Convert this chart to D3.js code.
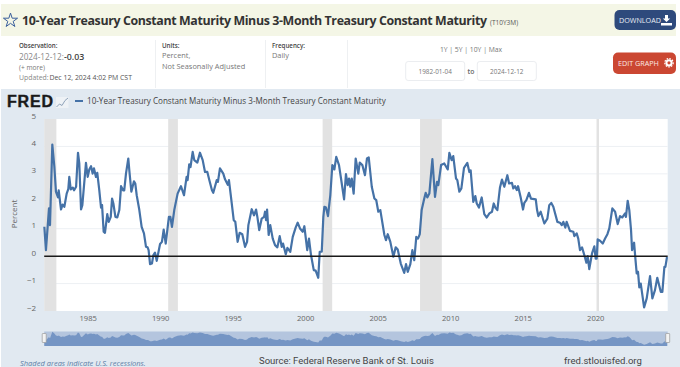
<!DOCTYPE html>
<html>
<head>
<meta charset="utf-8">
<script src="https://cdn.jsdelivr.net/npm/d3@7"></script>
<style>
  html, body { margin: 0; padding: 0; background: #fff; overflow: hidden; }
  svg { display: block; font-family: "Open Sans", sans-serif; }
</style>
</head>
<body>
<div id="chart"></div>
<script>
// observation dates as fractional years
const obsYears = [1982.01,1982.12,1982.33,1982.40,1982.56,1982.70,1982.81,1982.95,1983.0,1983.16,1983.27,1983.39,1983.55,1983.66,1983.73,1983.83,1983.97,1984.06,1984.2,1984.33,1984.42,1984.54,1984.63,1984.88,1985.0,1985.11,1985.23,1985.34,1985.43,1985.57,1985.66,1985.8,1985.92,1985.99,1986.1,1986.19,1986.35,1986.45,1986.59,1986.68,1986.77,1986.91,1987.04,1987.18,1987.3,1987.44,1987.52,1987.64,1987.8,1987.87,1988.01,1988.19,1988.28,1988.38,1988.56,1988.72,1988.88,1989.02,1989.13,1989.2,1989.3,1989.43,1989.53,1989.64,1989.76,1989.99,1990.12,1990.24,1990.38,1990.6,1990.7,1990.81,1990.97,1991.2,1991.43,1991.64,1991.82,1991.89,1992.0,1992.09,1992.24,1992.35,1992.56,1992.74,1992.93,1993.09,1993.25,1993.39,1993.57,1993.66,1993.9,1993.98,1994.12,1994.35,1994.47,1994.66,1994.74,1994.88,1995.07,1995.18,1995.34,1995.48,1995.66,1995.85,1995.99,1996.08,1996.31,1996.47,1996.61,1996.70,1996.83,1997.0,1997.16,1997.23,1997.3,1997.37,1997.48,1997.59,1997.76,1997.92,1998.08,1998.24,1998.38,1998.47,1998.66,1998.77,1998.97,1999.14,1999.34,1999.48,1999.64,1999.83,1999.94,2000.14,2000.26,2000.40,2000.59,2000.72,2000.90,2001.0,2001.14,2001.25,2001.32,2001.43,2001.57,2001.73,2001.87,2002.01,2002.14,2002.33,2002.47,2002.68,2002.81,2002.93,2003.02,2003.11,2003.21,2003.34,2003.48,2003.66,2003.76,2003.94,2004.12,2004.26,2004.38,2004.59,2004.77,2004.90,2005.04,2005.18,2005.46,2005.57,2005.69,2005.87,2006.08,2006.24,2006.38,2006.59,2006.83,2006.95,2007.07,2007.25,2007.39,2007.52,2007.66,2007.78,2007.90,2008.03,2008.21,2008.31,2008.42,2008.56,2008.77,2008.95,2009.09,2009.18,2009.37,2009.59,2009.83,2009.94,2010.10,2010.21,2010.40,2010.49,2010.63,2010.77,2010.95,2011.18,2011.32,2011.41,2011.59,2011.73,2011.83,2011.98,2012.17,2012.35,2012.52,2012.70,2012.88,2013.0,2013.11,2013.25,2013.43,2013.57,2013.73,2013.94,2014.06,2014.26,2014.35,2014.47,2014.59,2014.68,2014.86,2015.02,2015.11,2015.25,2015.43,2015.57,2015.90,2015.99,2016.08,2016.24,2016.49,2016.70,2016.83,2016.97,2017.11,2017.39,2017.57,2017.69,2017.80,2017.94,2018.03,2018.26,2018.49,2018.56,2018.72,2018.83,2018.95,2019.09,2019.28,2019.39,2019.48,2019.59,2019.78,2019.94,2020.03,2020.10,2020.17,2020.33,2020.52,2020.68,2020.84,2020.97,2021.18,2021.37,2021.55,2021.71,2021.87,2022.06,2022.12,2022.24,2022.35,2022.47,2022.54,2022.68,2022.77,2022.86,2022.95,2023.04,2023.14,2023.37,2023.55,2023.78,2023.94,2024.12,2024.28,2024.52,2024.63,2024.77,2024.84,2024.95];
const spread = [1.07,.22,1.74,1.13,4.07,3.26,2.35,2.14,2.4,1.7,1.88,1.8,2.28,2.44,2.89,2.43,2.5,2.4,2.53,3.77,3.38,1.7,1.86,3.4,2.89,3.16,3.28,3.01,3.2,2.89,3.04,2.4,1.77,1.86,.89,.85,1.53,1.25,1.43,2.1,1.92,1.43,1.41,1.68,2.55,2.4,2.4,3.01,3.56,3.13,2.35,2.73,2.65,2.22,1.68,1.07,.83,.34,.32,.22,-.29,-.27,.04,.13,-.17,.44,.52,.97,.46,1.43,1.43,1.07,1.68,2.28,2.55,2.22,2.89,2.77,3.35,3.25,3.8,3.5,3.41,3.77,3.5,3.07,3.07,2.77,2.4,2.31,2.77,2.71,3.2,3.01,2.8,2.6,2.77,2.16,1.31,1.25,.52,.85,.80,.34,.52,1.13,1.71,1.49,1.70,1.43,.95,1.37,1.43,1.62,1.31,1.70,.77,1.13,.64,.40,.32,.73,.34,.46,.07,.30,.16,.70,1.04,1.22,1.01,.89,1.09,.22,.64,.04,-.51,-.53,-.79,.16,.16,1.43,1.80,1.77,1.46,2.22,3.32,3.16,3.62,3.32,2.83,2.07,2.99,2.59,2.83,2.53,2.83,2.28,3.56,3.01,3.41,3.32,2.95,3.56,3.60,2.53,2.10,2.04,1.62,1.68,.77,.58,.80,.52,-.02,.32,.24,-.27,-.61,-.29,-.57,-.29,.22,-.15,.70,.64,.80,1.68,2.10,2.31,2.14,2.28,3.54,2.16,2.71,2.59,3.32,3.38,3.16,3.77,3.50,3.65,2.83,2.77,2.35,2.47,3.22,3.40,3.07,3.13,1.98,2.19,1.92,1.77,2.14,1.53,1.41,1.56,1.62,1.92,1.77,1.68,2.50,2.79,2.53,2.95,2.65,2.67,2.47,2.55,2.41,2.55,2.14,1.70,1.94,2.04,2.31,2.10,2.07,1.68,1.46,1.62,1.19,1.37,1.86,1.94,1.80,1.25,1.22,1.13,1.25,1.04,1.25,.92,.89,.73,.83,.64,.22,.32,-.02,-.24,0,-.47,.10,.36,-.09,-.09,.61,.56,.46,.64,.80,1.01,1.74,1.62,1.17,1.46,1.41,1.56,1.43,2.02,1.68,.95,.22,.49,-.09,-.63,-.57,-1.14,-1.0,-1.87,-1.54,-.73,-1.54,-1.24,-.79,-1.3,-1.3,-.39,-.39,-.03];

const recessionStart = [1981.5, 1990.55, 2001.2, 2007.92, 2020.09];
const recessionEnd = [1982.84, 1991.22, 2001.86, 2009.42, 2020.26];
const yTicks = [-2, -1, 0, 1, 2, 3, 4, 5];
const xTicks = [1985, 1990, 1995, 2000, 2005, 2010, 2015, 2020];

const width = 680;
const height = 367;
const plot = { left: 44.2, right: 667.7, top: 119, bottom: 311 };

const svg = d3.select("#chart").append("svg")
    .attr("width", width)
    .attr("height", height);

const x = d3.scaleLinear().domain([1982, 2024.998]).range([plot.left, plot.right]);
const y = d3.scaleLinear().domain([-2, 5]).range([plot.bottom, plot.top]);
const miniY = d3.scaleLinear().domain([-2.4, 4.2]).range([346, 331.5]);

const series = obsYears.map((yr, i) => ({ yr, val: spread[i] }));

// small helper for all the page furniture text
function label(txt, px, py, size, color, opts = {}) {
    return svg.append("text")
        .attr("x", px).attr("y", py)
        .attr("font-size", size)
        .attr("fill", color)
        .attr("font-weight", opts.weight || 400)
        .attr("font-style", opts.style || "normal")
        .attr("font-family", opts.family || null)
        .attr("text-anchor", opts.anchor || "start")
        .text(txt);
}

// title banner
svg.append("rect").attr("x", 1).attr("y", 4).attr("width", 675).attr("height", 32).attr("fill", "#f4f6e6");
svg.append("path")
    .attr("d", d3.symbol(d3.symbolStar, 62))
    .attr("transform", "translate(10.5,20.5)")
    .attr("fill", "none").attr("stroke", "#3a5f9c").attr("stroke-width", 1);
label("10-Year Treasury Constant Maturity Minus 3-Month Treasury Constant Maturity", 22, 25, 12.4, "#333", { weight: 700 })
    .attr("textLength", 465).attr("lengthAdjust", "spacing");
label("(T10Y3M)", 490, 24.5, 6.5, "#555");

// buttons
svg.append("rect").attr("x", 614.5).attr("y", 10).attr("width", 61.5).attr("height", 20).attr("rx", 5).attr("fill", "#2e4a7c");
label("DOWNLOAD", 619, 22.5, 7.2, "#e8edf5");
svg.append("path").attr("d", "M665 15h3v3.5h2.2l-3.7 3.5-3.7-3.5H665z M661 23h11v2.4h-11z").attr("fill", "#fff");

svg.append("rect").attr("x", 613).attr("y", 52.5).attr("width", 63).attr("height", 21.5).attr("rx", 5).attr("fill", "#cb4732");
label("EDIT GRAPH", 618, 66, 7.2, "#fbe9e5");
svg.append("circle").attr("cx", 669).attr("cy", 62.8).attr("r", 2.6).attr("fill", "none").attr("stroke", "#fff").attr("stroke-width", 2);
svg.append("circle").attr("cx", 669).attr("cy", 62.8).attr("r", 4.2).attr("fill", "none").attr("stroke", "#fff").attr("stroke-width", 1.2).attr("stroke-dasharray", "1.6 1.2");

// info row
[155.5, 265.5, 347.5].forEach(px => {
    svg.append("line").attr("x1", px).attr("x2", px).attr("y1", 40).attr("y2", 88).attr("stroke", "#eef0f2");
});
label("Observation:", 19, 48, 6.2, "#444", { weight: 600 });
label("2024-12-12:", 19, 60, 8.2, "#888");
label("-0.03", 64, 60, 8.8, "#444", { weight: 600 });
label("(+ more)", 19, 70, 6.6, "#777");
label("Updated:", 19, 80, 6.9, "#888");
label("Dec 12, 2024 4:02 PM CST", 49.5, 80, 6.9, "#555");
label("Units:", 162, 48, 6.2, "#444", { weight: 600 });
label("Percent,", 162, 58, 7.4, "#777");
label("Not Seasonally Adjusted", 162, 69, 7.4, "#777");
label("Frequency:", 272, 48, 6.2, "#444", { weight: 600 });
label("Daily", 272, 58, 7.4, "#777");

// date range
label("1Y | 5Y | 10Y | Max", 471, 52, 6.8, "#777", { anchor: "middle" });
[[405.7, "1982-01-04"], [477.3, "2024-12-12"]].forEach(([px, txt]) => {
    svg.append("rect").attr("x", px).attr("y", 61.5).attr("width", 59).attr("height", 19).attr("rx", 2.5)
        .attr("fill", "#fff").attr("stroke", "#ebedf0");
    label(txt, px + 29.5, 73.5, 6.4, "#777", { anchor: "middle" });
});
label("to", 471, 73.5, 6.8, "#666", { anchor: "middle", weight: 600 });

// chart panel
svg.append("rect").attr("x", 1).attr("y", 89).attr("width", 679).attr("height", 278).attr("fill", "#e1e9f1");
label("FRED", 7, 107, 16, "#1a1a1a", { weight: 700, family: "Liberation Sans" })
    .attr("textLength", 46).attr("stroke", "#1a1a1a").attr("stroke-width", 0.4);
svg.append("rect").attr("x", 56).attr("y", 97).attr("width", 12.5).attr("height", 11).attr("fill", "#eef2f6");
svg.append("path").attr("d", "M56.5 107l3-3 2.5 1.5 3-5 3-2.5").attr("fill", "none").attr("stroke", "#8fa3ba").attr("stroke-width", 1);
svg.append("line").attr("x1", 75).attr("x2", 83).attr("y1", 101).attr("y2", 101).attr("stroke", "#4572a7").attr("stroke-width", 2);
label("10-Year Treasury Constant Maturity Minus 3-Month Treasury Constant Maturity", 87, 104, 8.1, "#444");

// plot area
svg.append("rect").attr("x", plot.left).attr("y", plot.top)
    .attr("width", plot.right - plot.left).attr("height", plot.bottom - plot.top).attr("fill", "#fff");

svg.append("g").selectAll("line")
    .data(yTicks.filter(d => d !== 5 && d !== -2))
    .join("line")
    .attr("x1", plot.left).attr("x2", plot.right)
    .attr("y1", d => y(d)).attr("y2", d => y(d))
    .attr("stroke", "#edf0f4").attr("stroke-width", 1);

svg.append("g").selectAll("rect")
    .data(recessionStart)
    .join("rect")
    .attr("x", d => Math.max(x(d), plot.left))
    .attr("width", (d, i) => x(recessionEnd[i]) - Math.max(x(d), plot.left))
    .attr("y", plot.top).attr("height", plot.bottom - plot.top)
    .attr("fill", "#e2e2e2");

const yAxis = svg.append("g")
    .attr("transform", `translate(${plot.left},0)`)
    .call(d3.axisLeft(y).tickValues(yTicks).tickSize(0).tickPadding(8).tickFormat(d3.format("d")));
yAxis.select(".domain").remove();
yAxis.selectAll("text").attr("dy", "-0.9").attr("font-size", 8).attr("font-family", "Open Sans").attr("fill", "#666");

const xAxis = svg.append("g")
    .attr("transform", `translate(0,${plot.bottom})`)
    .call(d3.axisBottom(x).tickValues(xTicks).tickSize(0).tickPadding(5).tickFormat(d3.format("d")));
xAxis.select(".domain").remove();
xAxis.selectAll("text").attr("font-size", 7.6).attr("font-family", "Open Sans").attr("fill", "#666");

label("Percent", 0, 0, 8, "#666", { anchor: "middle" }).attr("transform", "translate(17,214) rotate(-90)");

const line = d3.line().x(d => x(d.yr)).y(d => y(d.val)).curve(d3.curveLinear);
svg.append("path")
    .datum(series)
    .attr("d", line)
    .attr("fill", "none")
    .attr("stroke", "#4572a7")
    .attr("stroke-width", 2.2)
    .attr("stroke-linejoin", "round");

// zero line
svg.append("line")
    .attr("x1", plot.left).attr("x2", plot.right)
    .attr("y1", y(0)).attr("y2", y(0))
    .attr("stroke", "#1a1a1a").attr("stroke-width", 1.5);

// navigator under the chart
svg.append("rect").attr("x", plot.left).attr("y", 331.5).attr("width", plot.right - plot.left).attr("height", 14.5).attr("fill", "#b4c5de");
const miniArea = d3.area().x(d => x(d.yr)).y0(346).y1(d => miniY(d.val));
svg.append("path").datum(series).attr("d", miniArea).attr("fill", "#7595c4");
[plot.left, plot.right].forEach(px => {
    svg.append("rect").attr("x", px - 2).attr("y", 333.5).attr("width", 4).attr("height", 9).attr("rx", 0.5)
        .attr("fill", "#f2f2f2").attr("stroke", "#999").attr("stroke-width", 0.7);
});

// footer
label("Shaded areas indicate U.S. recessions.", 20, 365.5, 7.5, "#5d7ea6", { style: "italic" });
label("Source: Federal Reserve Bank of St. Louis", 259, 363.5, 9.5, "#444", { family: "Roboto" });
label("fred.stlouisfed.org", 564, 363.5, 9.55, "#444", { family: "Roboto" });
</script>
</body>
</html>
